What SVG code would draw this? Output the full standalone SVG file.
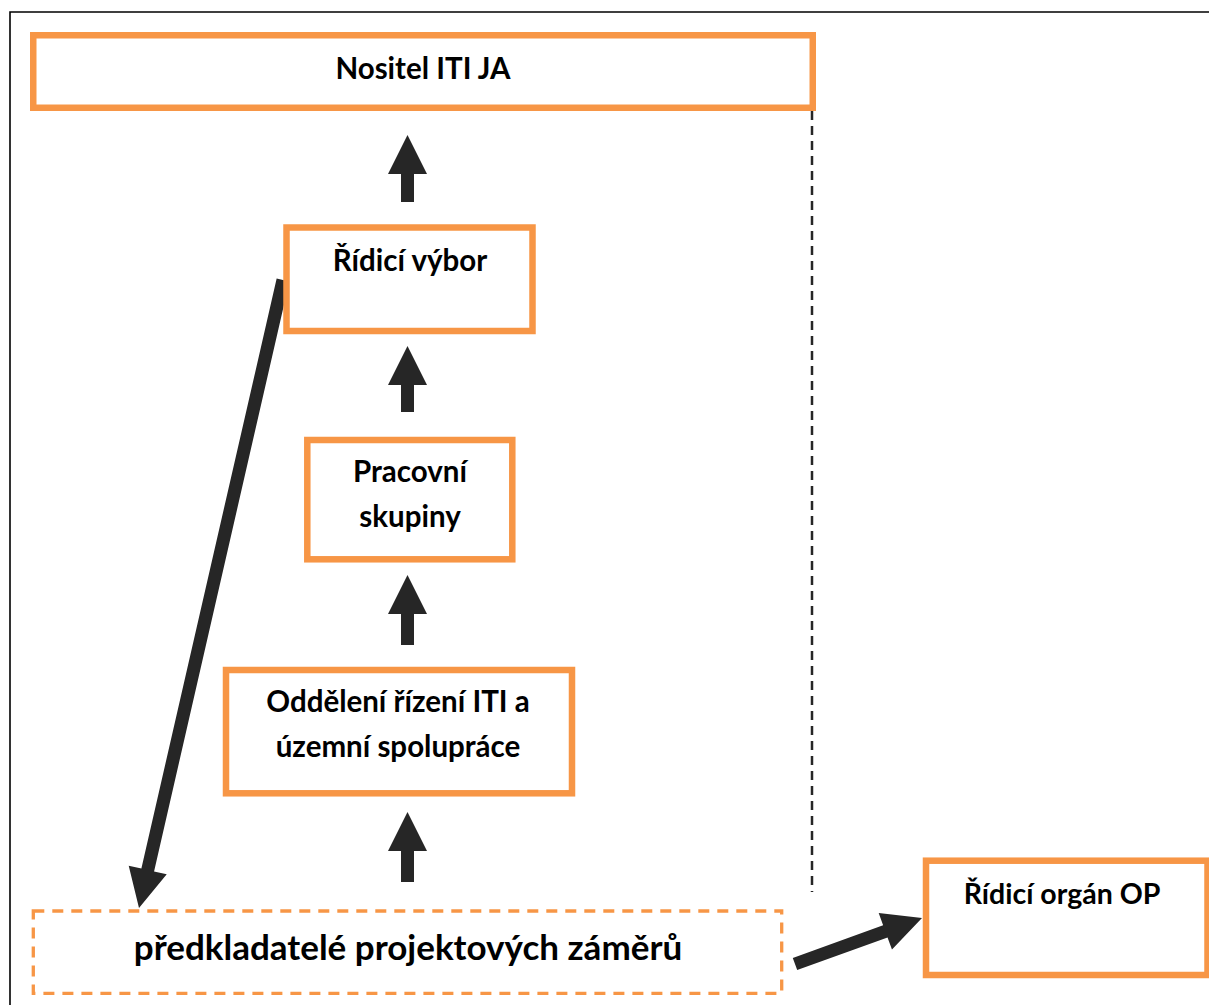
<svg xmlns="http://www.w3.org/2000/svg" width="1209" height="1005" viewBox="0 0 1209 1005">
<style>
.box{fill:#fff;stroke:#F79646;stroke-width:6.5}
.dbox{fill:#fff;stroke:#F79646;stroke-width:3.3;stroke-dasharray:11 8}
.t{font-family:Lato,"Liberation Sans",sans-serif;font-weight:700;font-size:29.5px;fill:#000;text-anchor:middle}
.arr{fill:#262626}
</style>
<rect width="1209" height="1005" fill="#fff"/>
<path d="M10,1005 V12 H1209" fill="none" stroke="#000" stroke-width="1.6"/>
<g id="connectors">
<line x1="812" y1="111" x2="812" y2="892" stroke="#262626" stroke-width="2.5" stroke-dasharray="9 6"/>
<polygon class="arr" points="401,202 401,174 388,174 407.5,135 427,174 414,174 414,202"/>
<polygon class="arr" points="401,412 401,385 388,385 407.5,346 427,385 414,385 414,412"/>
<polygon class="arr" points="401,645 401,614 388,614 407.5,575 427,614 414,614 414,645"/>
<polygon class="arr" points="401,882 401,851 388,851 407.5,812 427,851 414,851 414,882"/>
<polygon class="arr" points="289.34,281.45 154.06,871.44 166.73,874.35 139,908 128.71,865.63 141.38,868.54 276.66,278.55"/>
<polygon class="arr" points="797.21,970.11 887.54,937.39 891.97,949.61 922,918 878.69,912.95 883.12,925.17 792.79,957.89"/>
</g>
<g id="nositel">
<rect class="box" x="33.25" y="35.25" width="779.5" height="72.5"/>
<text class="t" x="423" y="79">Nositel ITI JA</text>
</g>
<g id="ridici-vybor">
<rect class="box" x="286.5" y="227.5" width="246" height="103.5"/>
<text class="t" x="410" y="271">Řídicí výbor</text>
</g>
<g id="pracovni-skupiny">
<rect class="box" x="307.3" y="440" width="205" height="119.3"/>
<text class="t" x="410" y="482">Pracovní</text>
<text class="t" x="410" y="527">skupiny</text>
</g>
<g id="oddeleni">
<rect class="box" x="226" y="670" width="346" height="123.3"/>
<text class="t" x="398" y="712">Oddělení řízení ITI a</text>
<text class="t" x="398" y="757">územní spolupráce</text>
</g>
<g id="predkladatele">
<rect class="dbox" x="33.3" y="911" width="748.4" height="82.3"/>
<text class="t" x="408" y="960" style="font-size:35px">předkladatelé projektových záměrů</text>
</g>
<g id="ridici-organ">
<rect class="box" x="926" y="860.7" width="281.5" height="114.3"/>
<text class="t" x="1062" y="904" style="font-size:28.5px">Řídicí orgán OP</text>
</g>
</svg>
